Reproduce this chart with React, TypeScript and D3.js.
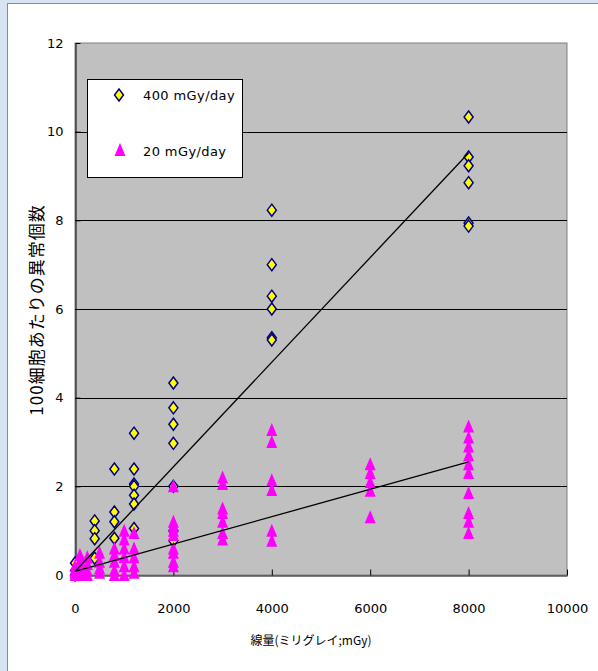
import { useEffect, useRef } from "react";
import * as d3 from "d3";

// 400 mGy/day (diamonds)
const hiDose = [0, 0, 0, 100, 400, 400, 400, 400, 800, 800, 800, 800, 1200, 1200, 1200, 1200, 1200, 1200, 1200,
  2000, 2000, 2000, 2000, 2000, 2000, 2000, 4000, 4000, 4000, 4000, 4000, 4000, 8000, 8000, 8000, 8000, 8000, 8000];
const hiValue = [0.27, 0.1, 0.0, 0.15, 1.22, 1.0, 0.82, 0.38, 2.39, 1.42, 1.2, 0.83, 3.2, 2.39, 2.05, 2.0, 1.8, 1.6, 1.05,
  4.33, 3.77, 3.4, 2.97, 2.0, 1.0, 0.77, 8.23, 7.0, 6.29, 6.0, 5.35, 5.3, 10.33, 9.43, 9.23, 8.85, 7.94, 7.87];

// 20 mGy/day (triangles)
const loDose = [0, 0, 0, 0, 100, 100, 100, 100, 250, 250, 250, 250, 500, 500, 500, 500,
  800, 800, 800, 800, 800, 1000, 1000, 1000, 1000, 1000, 1000, 1200, 1200, 1200, 1200, 1200,
  2000, 2000, 2000, 2000, 2000, 2000, 2000, 2000, 2000, 3000, 3000, 3000, 3000, 3000, 3000, 3000,
  4000, 4000, 4000, 4000, 4000, 4000, 6000, 6000, 6000, 6000, 6000,
  8000, 8000, 8000, 8000, 8000, 8000, 8000, 8000, 8000, 8000];
const loValue = [0.2, 0.1, 0.05, 0.0, 0.45, 0.3, 0.15, 0.0, 0.4, 0.25, 0.1, 0.0, 0.5, 0.3, 0.15, 0.05,
  0.6, 0.45, 0.3, 0.1, 0.0, 1.0, 0.8, 0.6, 0.4, 0.2, 0.0, 0.95, 0.6, 0.4, 0.2, 0.05,
  2.0, 1.2, 1.1, 1.0, 0.9, 0.6, 0.5, 0.3, 0.2, 2.2, 2.05, 1.5, 1.4, 1.2, 0.95, 0.8,
  3.27, 3.0, 2.14, 1.92, 1.0, 0.77, 2.5, 2.3, 2.1, 1.9, 1.3,
  3.35, 3.1, 2.9, 2.7, 2.5, 2.3, 1.85, 1.4, 1.2, 0.95];

// linear trend lines: [intercept, slope]
const hiTrend = [0.08, 0.00118];
const loTrend = [0.08, 0.000309];
const trendRange = [0, 8000];

const xTicks = [0, 2000, 4000, 6000, 8000, 10000];
const yTicks = [0, 2, 4, 6, 8, 10, 12];

const seriesNames = ["400 mGy/day", "20 mGy/day"];

const App = () => {
  const ref = useRef<SVGSVGElement>(null);

  useEffect(() => {
    const svg = d3.select(ref.current);
    svg.selectAll("*").remove();

    const jpFont = "'Noto Sans CJK JP', sans-serif";
    const numFont = "'DejaVu Sans', sans-serif";
    const left = 75, right = 567, top = 43, bottom = 575;

    const x = d3.scaleLinear().domain([0, 10000]).range([left, right]);
    const y = d3.scaleLinear().domain([0, 12]).range([bottom, top]);

    // background
    svg.append("rect").attr("width", 598).attr("height", 671).attr("fill", "#d6e4f3");
    svg.append("rect").attr("x", 7.5).attr("y", 3.5).attr("width", 600).attr("height", 680)
      .attr("fill", "#fff").attr("stroke", "#8a8a8a");

    // plot area
    svg.append("rect").attr("x", left).attr("y", top).attr("width", right - left).attr("height", bottom - top)
      .attr("fill", "#c0c0c0").attr("stroke", "#808080");

    svg.append("g").selectAll("line").data(yTicks.filter(d => d > 0 && d < 12)).enter().append("line")
      .attr("x1", left).attr("x2", right)
      .attr("y1", d => Math.round(y(d)) + 0.5).attr("y2", d => Math.round(y(d)) + 0.5)
      .attr("stroke", "#000");

    // axes
    const xAxis = svg.append("g").attr("transform", "translate(0," + (bottom + 0.5) + ")")
      .call(d3.axisBottom(x).tickValues(xTicks).tickFormat(d3.format("d")).tickSizeInner(-6).tickSizeOuter(0).tickPadding(28));
    xAxis.select(".domain").attr("stroke", "#000");
    xAxis.selectAll("text").attr("font-family", numFont).attr("font-size", 13).attr("fill", "#000");

    const yAxis = svg.append("g").attr("transform", "translate(" + (left + 0.5) + ",0)")
      .call(d3.axisLeft(y).tickValues(yTicks).tickSizeInner(-5).tickSizeOuter(0).tickPadding(12));
    yAxis.select(".domain").attr("stroke", "#000");
    yAxis.selectAll("text").attr("font-family", numFont).attr("font-size", 13).attr("fill", "#000");

    const diamond = "M0,-6L4.5,0L0,6L-4.5,0Z";
    const triangle = "M0,-7L5.5,6L-5.5,6Z";

    svg.append("g").selectAll("path").data(hiDose).enter().append("path")
      .attr("d", diamond)
      .attr("transform", (d, i) => "translate(" + x(d) + "," + y(hiValue[i]) + ")")
      .attr("fill", "#ffff00").attr("stroke", "#000080").attr("stroke-width", 1.5);

    svg.append("g").selectAll("path").data(loDose).enter().append("path")
      .attr("d", triangle)
      .attr("transform", (d, i) => "translate(" + x(d) + "," + y(loValue[i]) + ")")
      .attr("fill", "#ff00ff");

    // trend lines
    const line = d3.line<number>().x(d => x(d));
    [hiTrend, loTrend].forEach(t => {
      svg.append("path")
        .attr("d", line.y(d => y(t[0] + t[1] * d))(trendRange))
        .attr("fill", "none").attr("stroke", "#000").attr("stroke-width", 1.3);
    });

    // legend
    svg.append("rect").attr("x", 87.5).attr("y", 79.5).attr("width", 155).attr("height", 98)
      .attr("fill", "#fff").attr("stroke", "#000");
    svg.append("path").attr("d", diamond).attr("transform", "translate(119,95)")
      .attr("fill", "#ffff00").attr("stroke", "#000080").attr("stroke-width", 1.5);
    svg.append("path").attr("d", triangle).attr("transform", "translate(120,150)").attr("fill", "#ff00ff");
    svg.append("text").attr("x", 143).attr("y", 100).text(seriesNames[0])
      .attr("font-family", numFont).attr("font-size", 13).attr("letter-spacing", 0.4);
    svg.append("text").attr("x", 143).attr("y", 156).text(seriesNames[1])
      .attr("font-family", numFont).attr("font-size", 13).attr("letter-spacing", 0.4);

    // axis titles
    svg.append("text").attr("x", 311).attr("y", 645).attr("text-anchor", "middle")
      .attr("font-family", jpFont).attr("font-size", 12).text("線量(ミリグレイ;mGy)");
    svg.append("text").attr("transform", "translate(43,310) rotate(-90)").attr("text-anchor", "middle")
      .attr("font-family", jpFont).attr("font-size", 17).attr("letter-spacing", 1)
      .text("100細胞あたりの異常個数");
  }, []);

  return (
    <svg ref={ref} width={598} height={671} style={{ position: "absolute", left: 0, top: 0 }}></svg>
  );
};

export default App;
